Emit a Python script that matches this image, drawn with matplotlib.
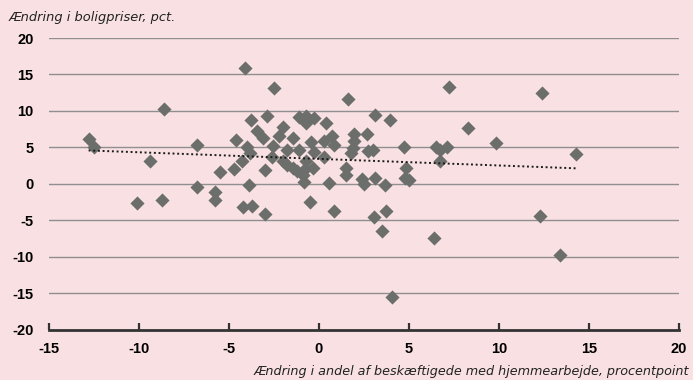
import numpy as np
import matplotlib
matplotlib.use("Agg")
import matplotlib.pyplot as plt

# change in share working from home (pp) vs change in house prices (pct)
wfh_change = [
    -12.8, -12.5, -10.1, -9.4, -8.7, -8.6, -6.75, -6.8, -5.5, -5.75,
    -5.8, -4.7, -4.6, -4.1, -4.0, -3.85, -4.25, -3.9, -4.2, -3.7,
    -3.75, -3.45, -3.1, -2.9, -2.5, -3.0, -3.0, -2.55, -2.6, -2.2,
    -2.0, -1.8, -2.0, -1.75, -1.45, -1.2, -0.9, -1.45, -1.1, -0.7,
    -0.7, -0.25, -1.1, -0.45, -0.7, -0.25, -0.8, -0.35, -0.85, -0.5,
    0.3, 0.3, 0.4, 0.75, 0.85, 0.55, 0.85, 1.6, 1.5, 1.5,
    1.95, 1.95, 1.9, 1.8, 2.65, 2.7, 3.0, 2.4, 2.5, 3.1,
    3.65, 3.1, 3.95, 3.05, 3.75, 3.5, 4.05, 4.75, 4.85, 4.8,
    5.0, 6.5, 6.7, 7.1, 6.75, 7.2, 6.4, 8.3, 9.85, 12.4,
    12.25, 13.4, 14.3,
]
price_change = [
    6.2, 5.0, -2.6, 3.2, -2.25, 10.3, 5.3, -0.4, 1.6, -1.1,
    -2.2, 2.1, 6.0, 15.9, 5.1, 4.25, 3.1, -0.1, -3.2, -3.0,
    8.7, 7.2, 6.3, 9.25, 13.2, 1.9, -4.1, 5.15, 3.7, 6.6,
    7.8, 4.6, 3.1, 2.65, 2.2, 1.75, 1.3, 6.3, 9.2, 9.25,
    8.35, 9.0, 4.7, 5.7, 3.1, 4.4, 2.0, 2.2, 0.3, -2.45,
    3.75, 5.85, 8.35, 6.6, 5.4, 0.2, -3.75, 11.6, 2.2, 1.3,
    6.85, 5.85, 4.95, 4.25, 6.85, 4.5, 4.7, 0.75, -0.05, 0.85,
    -0.1, 9.4, 8.7, -4.55, -3.7, -6.4, -15.5, 5.0, 2.25, 0.8,
    0.55, 5.1, 4.6, 5.1, 3.1, 13.3, -7.35, 7.7, 5.6, 12.5,
    -4.4, -9.7, 4.1,
]

# linear trend
trend_slope = -0.0904
trend_intercept = 3.44

x_ticks = [-15, -10, -5, 0, 5, 10, 15, 20]
y_ticks = [-20, -15, -10, -5, 0, 5, 10, 15, 20]

bg = "#f9e1e3"
marker_col = "#6b6e6b"
tick_font = ["Liberation Sans", "DejaVu Sans"]
label_font = ["DejaVu Sans"]

fig = plt.figure(figsize=(6.93, 3.80), dpi=100, facecolor=bg)
ax = fig.add_axes([0.0707, 0.1316, 0.9091, 0.7684], facecolor=bg)

for y in y_ticks[1:]:
    ax.axhline(y, color="#8f8f8f", lw=1.0, zorder=1)

ax.scatter(wfh_change, price_change, marker="D", s=52, color=marker_col,
           linewidths=0, zorder=3)

xs = np.array([min(wfh_change), max(wfh_change)])
ax.plot(xs, trend_intercept + trend_slope * xs, color="#1a1a1a", lw=1.4,
        linestyle=(0, (1, 1.4)), zorder=4)

ax.set_xlim(-15, 20)
ax.set_ylim(-20, 20)
ax.set_xticks(x_ticks)
ax.set_yticks(y_ticks)
ax.set_xticklabels([str(t) for t in x_ticks], fontweight="bold", fontsize=10.5,
                   family=tick_font, color="#000000")
ax.set_yticklabels([str(t) for t in y_ticks], fontweight="bold", fontsize=10.5,
                   family=tick_font, color="#000000")

for s in ["top", "right", "left"]:
    ax.spines[s].set_visible(False)
ax.spines["bottom"].set_color("#333333")
ax.spines["bottom"].set_linewidth(2.0)
ax.tick_params(axis="x", direction="in", length=5, width=1.6, color="#333333",
               pad=9)
ax.tick_params(axis="y", length=0, pad=11)

fig.text(0.012, 0.953, "Ændring i boligpriser, pct.", fontsize=9.4,
         style="italic", family=label_font, color="#222222",
         va="center", ha="left")
fig.text(0.995, 0.022, "Ændring i andel af beskæftigede med hjemmearbejde, procentpoint",
         fontsize=9.2, style="italic", family=label_font,
         color="#222222", va="center", ha="right")

fig.savefig("out.png", dpi=100, facecolor=bg)
